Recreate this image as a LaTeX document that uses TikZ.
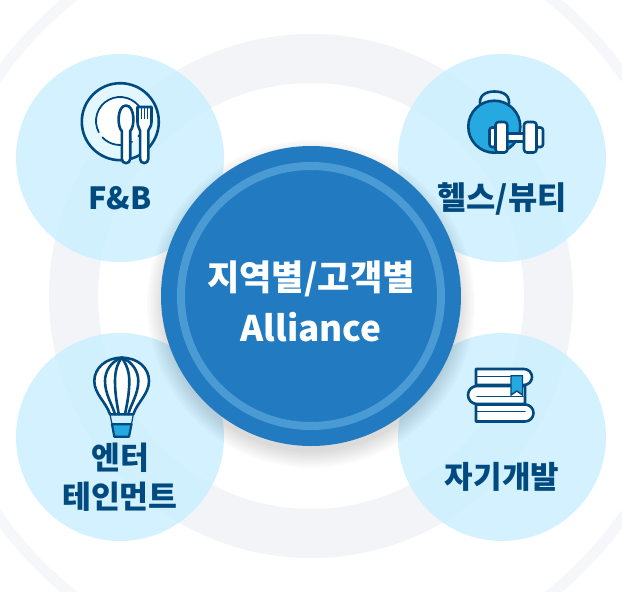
\documentclass[tikz,border=0pt]{standalone}
\usepackage{fontspec}
\setmainfont{Noto Sans CJK KR}
\definecolor{ringgray}{HTML}{F2F4F8}
\definecolor{ringpale}{HTML}{F6F7FA}
\definecolor{bubble}{HTML}{CDF0FF}
\definecolor{hubblue}{HTML}{227BC1}
\definecolor{hubring}{HTML}{4A9BD3}
\definecolor{navy}{HTML}{004A80}
\definecolor{skyfill}{HTML}{25A9E0}
\definecolor{paleplate}{HTML}{E2F7FF}
\tikzset{
  bubblenode/.style={circle,fill=bubble,fill opacity=0.88,minimum size=208pt,inner sep=0pt},
  hubnode/.style={circle,fill=hubblue,minimum size=300pt,inner sep=0pt},
  hubtext/.style={text=white,font=\bfseries\fontsize{35.2}{35.2}\selectfont,anchor=base},
  bubbletext/.style={text=navy,font=\bfseries\fontsize{#1}{#1}\selectfont,anchor=base},
  bubbletext/.default=31.4,
  icon/.style={draw=navy,line width=2.6pt,line join=round,line cap=round},
  thinicon/.style={draw=navy,line width=1.8pt,line cap=round},
}
\begin{document}
\begin{tikzpicture}[x=1pt,y=-1pt]
    \useasboundingbox (0,0) rectangle (622,592);
    \clip (0,0) rectangle (622,592);
    \fill [white] (0,0) rectangle (622,592);
    % rings behind everything
    \fill [ringpale,even odd rule] (311,296) circle [radius=388] (311,296) circle [radius=377];
    \fill [ringgray,even odd rule] (311,296) circle [radius=262] (311,296) circle [radius=213];
    \node [bubblenode] (fb) at (120,158) {};
    \node [bubblenode] (health) at (502,158) {};
    \node [bubblenode] (enter) at (120,437) {};
    \node [bubblenode] (self) at (502,437) {};
    % soft shadow of the hub
    \foreach \r in {148,150,...,164}
      \fill [black,opacity=0.016] (311,304) circle [radius=\r];
    \node [hubnode] (hub) at (311,296) {};
    \draw [hubring,line width=8pt] (hub) circle [radius=130];
    \node [hubtext] (hubkr) at (311,290) {지역별/고객별};
    \node [hubtext] (huben) at (311,341.7) {Alliance};
    \node [bubbletext=30.5] (fbtext) at (120,209.5) {F\&B};
    \node [bubbletext=31.8] (healthtext) at (502,209.5) {헬스/뷰티};
    \node [bubbletext] (entertext) at (120,469) {엔터};
    \node [bubbletext] (entertexttwo) at (120,508) {테인먼트};
    \node [bubbletext=31] (selftext) at (502,488) {자기개발};
    % plate, spoon and fork
    \fill [paleplate] (120.3,121.7) circle [radius=38];
    \fill [white] (120,121) circle [radius=24];
    \draw [icon] (120.3,121.7) circle [radius=38.5];
    \draw [thinicon] (120,121) ++(152:24) arc (152:400:24);
    \draw [thinicon] (120,121) ++(137:24) arc (137:60:24);
    \draw [icon,fill=white] (121.8,131) -- (121.8,159) arc (180:0:4.2) -- (130.2,131) .. controls (135,127) and (135,105.5) .. (126,105.5) .. controls (117,105.5) and (117,127) .. (121.8,131) -- cycle;
    \draw [icon,fill=white] (137.5,107) -- (151.5,107) -- (151.5,122) .. controls (151.5,127) and (148.3,129) .. (148.3,131) -- (148.3,159) arc (0:180:4.1) -- (140.1,131) .. controls (140.1,129) and (137.5,127) .. (137.5,122) -- cycle;
    \foreach \x in {141.5,144.5,147.5}
      \draw [navy,line width=1.2pt] (\x,107) -- (\x,119);
    % kettlebell and dumbbell
    \draw [icon] (480.5,106) .. controls (478,96) and (485,91.5) .. (494.5,91.5) .. controls (504,91.5) and (511,96) .. (508.5,106);
    \draw [icon,fill=skyfill] (494.3,126.7) circle [radius=26];
    \draw [icon,fill=white] (507,133.5) rectangle (524,141.5);
    \draw [icon,fill=white,rounded corners=2.5pt] (489.5,127.5) rectangle (496,147);
    \draw [icon,fill=white,rounded corners=2.5pt] (536,127.5) rectangle (543,147);
    \draw [icon,fill=white,rounded corners=3pt] (495.5,122) rectangle (507.3,152.5);
    \draw [icon,fill=white,rounded corners=3pt] (524,122) rectangle (536.5,152.5);
    % balloon
    \draw [icon,fill=white] (121.7,357.7) .. controls (106,357.7) and (94.3,368) .. (94.3,381) .. controls (94.3,394) and (106,402) .. (110,414.3) -- (133.3,414.3) .. controls (137.5,402) and (149,394) .. (149,381) .. controls (149,368) and (138,357.7) .. (121.7,357.7) -- cycle;
    \draw [icon] (121.7,357.7) .. controls (110,362) and (105,372) .. (105,381) .. controls (105,394) and (112,404) .. (115,414.3);
    \draw [icon] (121.7,357.7) .. controls (133,362) and (138.3,372) .. (138.3,381) .. controls (138.3,394) and (131,404) .. (128.3,414.3);
    \draw [icon] (121.7,357.7) .. controls (117,364) and (115,372) .. (115,381) .. controls (115,394) and (117,404) .. (118.8,414.3);
    \draw [icon] (121.7,357.7) .. controls (126.5,364) and (129.3,372) .. (129.3,381) .. controls (129.3,394) and (127,404) .. (125,414.3);
    \draw [navy,line width=1.2pt] (110,414.3) -- (112,424.3);
    \draw [navy,line width=1.2pt] (133.3,414.3) -- (131.5,424.3);
    \draw [icon,fill=skyfill,line width=2.2pt] (112,424.3) -- (131.5,424.3) -- (129,436.7) -- (114.3,436.7) -- cycle;
    % stack of books
    \draw [icon,fill=white] (476,369) -- (524,369) arc (-90:90:8) -- (476,385) -- cycle;
    \draw [icon,fill=white] (476,404.5) -- (525,404.5) arc (-90:90:8.5) -- (476,421.5) -- cycle;
    \draw [icon,fill=white] (525,386) -- (477,386) arc (-90:-270:9) -- (525,404) -- cycle;
    \draw [thinicon] (476,376.5) -- (510,376.5);
    \draw [thinicon] (477,396.5) -- (523,396.5);
    \draw [thinicon] (477,411.5) -- (525,411.5);
    \draw [navy,line width=1.4pt,fill=skyfill] (511,375.7) -- (522.5,375.7) -- (522.5,395) -- (516.8,391) -- (511,395) -- cycle;
\end{tikzpicture}
\end{document}
